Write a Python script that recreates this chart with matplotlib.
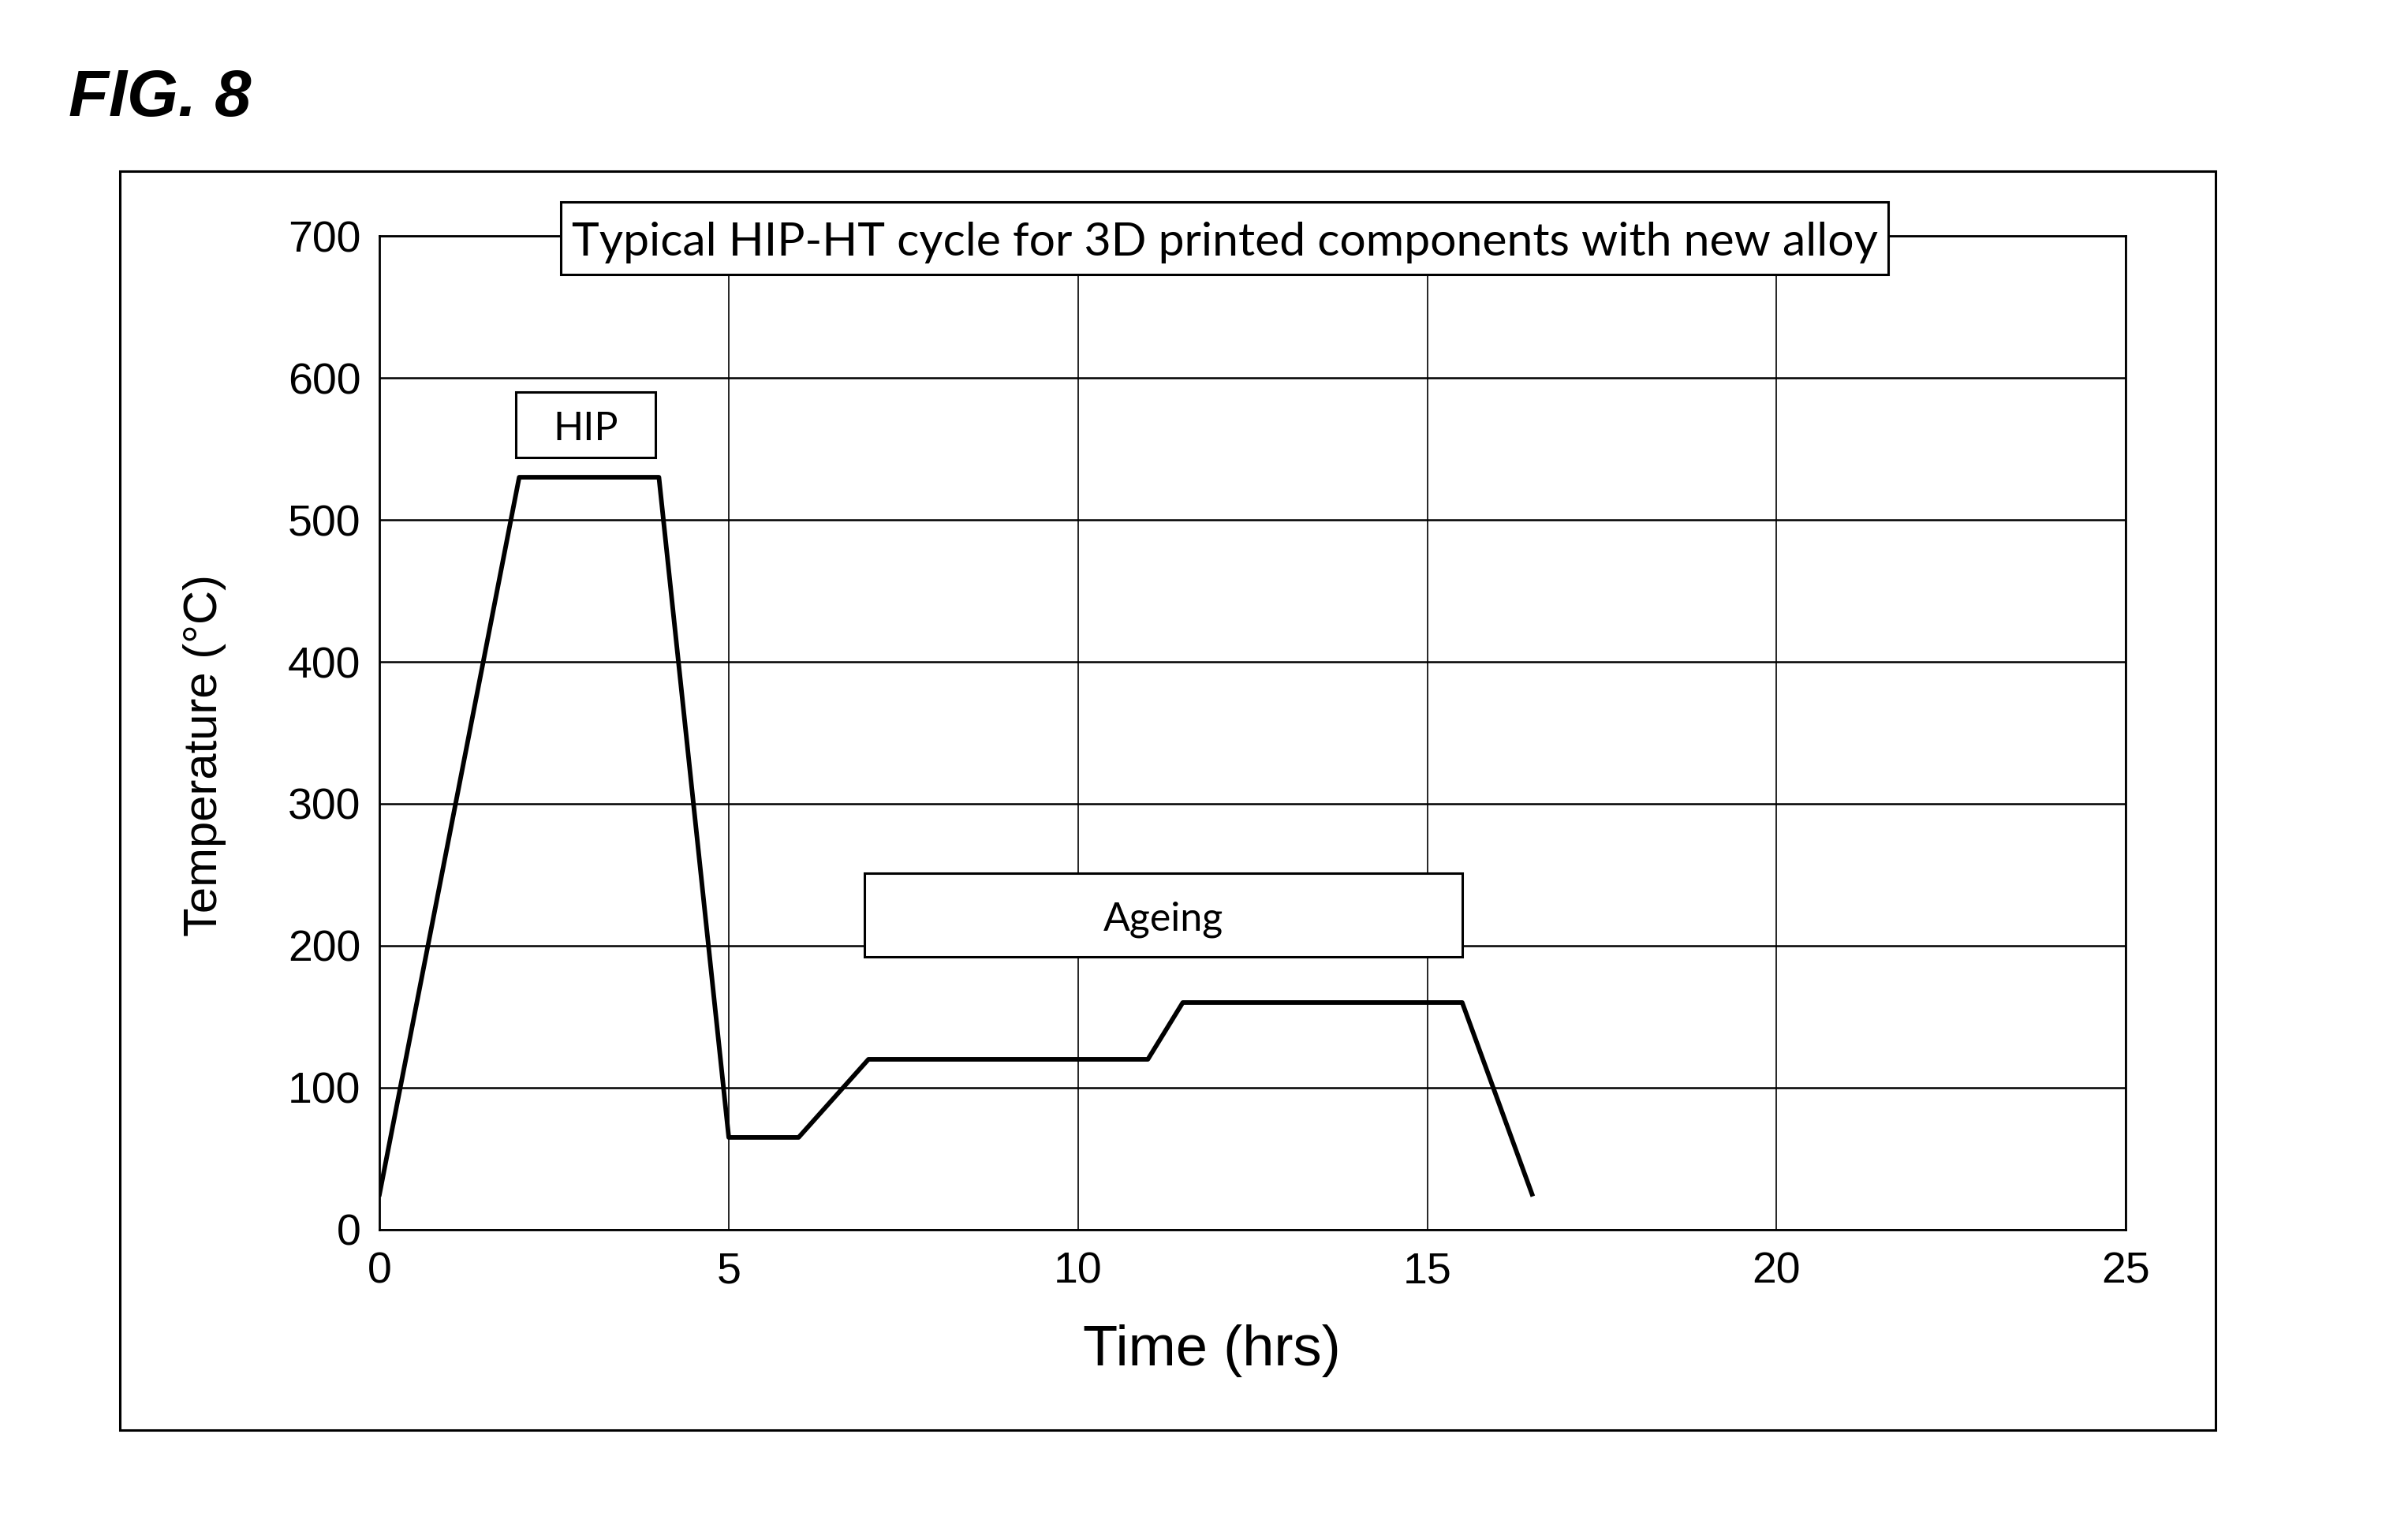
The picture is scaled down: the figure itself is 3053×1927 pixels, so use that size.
import matplotlib.pyplot as plt
from matplotlib.patches import Rectangle

# Ciclo HIP-HT (tiempo en horas, temperatura en °C)
time_hrs = [0, 2, 4, 5, 6, 7, 11, 11.5, 15.5, 16.5]
temp_c = [25, 530, 530, 65, 65, 120, 120, 160, 160, 25]

x_ticks = [0, 5, 10, 15, 20, 25]
y_ticks = [0, 100, 200, 300, 400, 500, 600, 700]

title_text = 'Typical HIP-HT cycle for 3D printed components with new alloy'
# cajas de etiquetas: (x0, x1, y0, y1) en unidades de datos
title_box = (2.6, 21.6, 673, 724)
hip_box = (1.95, 3.95, 544, 590)
ageing_box = (6.94, 15.5, 192, 251)

plt.rcParams['font.family'] = ['Liberation Sans', 'DejaVu Sans']

fig = plt.figure(figsize=(30.53, 19.27), dpi=100)

# Marco exterior
fig.patches.append(Rectangle((0.0498, 0.0592), 0.9202 - 0.0498, 0.8874 - 0.0592,
                             transform=fig.transFigure, fill=False,
                             edgecolor='black', linewidth=2.2))

fig.text(0.0285, 0.9237, 'FIG. 8', fontsize=60, fontweight='bold',
         fontstyle='italic', va='baseline', ha='left')

ax = fig.add_axes([0.1576, 0.1910, 0.7252, 0.6538])
ax.plot(time_hrs, temp_c, color='black', linewidth=4.2, zorder=3)

ax.set_xlim(0, 25)
ax.set_ylim(0, 700)
ax.set_xticks(x_ticks)
ax.set_yticks(y_ticks)
ax.tick_params(axis='x', length=0, labelsize=40, pad=20)
ax.tick_params(axis='y', length=0, labelsize=40, pad=17)

ax.yaxis.grid(True, color='black', linewidth=1.8)
ax.xaxis.grid(True, color='black', linewidth=1.2)
for s in ax.spines.values():
    s.set_linewidth(2.0)

ax.set_xlabel('Time (hrs)', fontsize=52, va='center', ha='center')
ax.xaxis.set_label_coords(0.4765, -0.1222)
ax.set_ylabel('Temperature (°C)', fontsize=43, va='center', ha='center')
ax.yaxis.set_label_coords(-0.1003, 0.477)


def label_box(box, text, size):
    x0, x1, y0, y1 = box
    r = Rectangle((x0, y0), x1 - x0, y1 - y0, facecolor='white',
                  edgecolor='black', linewidth=2.2, clip_on=False, zorder=4)
    ax.add_patch(r)
    ax.text((x0 + x1) / 2, (y0 + y1) / 2 - 3.3, text, fontsize=size,
            family=['Lato', 'DejaVu Sans'], ha='center', va='center',
            zorder=5, clip_on=False)


label_box(title_box, title_text, 42.4)
label_box(hip_box, 'HIP', 36)
label_box(ageing_box, 'Ageing', 36)

fig.savefig('out.png', dpi=100, facecolor='white')
